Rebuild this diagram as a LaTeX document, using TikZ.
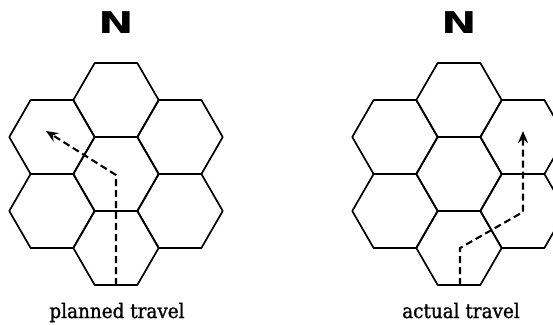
\documentclass[tikz,border=0pt]{standalone}
\usepackage{fontspec}
\usetikzlibrary{arrows.meta}
\newfontfamily\labelfont[FakeBold=1.2]{DejaVu Serif}
\newfontfamily\northfont{DejaVu Sans}
\begin{document}
\begin{tikzpicture}[x=1pt,y=-1pt,
  hexline/.style={line width=1.7pt, line join=round},
  travel/.style={line width=2.1pt, dash pattern=on 7pt off 4pt, -{Stealth[length=12pt,width=10pt]}},
  northlabel/.style={font=\northfont\bfseries\fontsize{30}{31}\selectfont, xscale=1.4, inner sep=0pt},
  caption/.style={font=\labelfont\fontsize{20}{22}\selectfont, xscale=0.92, inner sep=0pt, anchor=base}]
\useasboundingbox (0,0) rectangle (553,324);
\clip (0,0) rectangle (553,324);
\def\HR{42.7}
\def\HH{36.98}
\def\HS{64.05}
% hex clusters
\foreach \ox in {116,459}{
  \foreach \dx/\dy in {0/0, 0/-2, 0/2, -1/-1, -1/1, 1/-1, 1/1}{
    \draw[hexline] ({\ox+\dx*\HS},{174+\dy*\HH})
      +(\HR,0) -- +(\HR/2,\HH) -- +(-\HR/2,\HH) -- +(-\HR,0)
      -- +(-\HR/2,-\HH) -- +(\HR/2,-\HH) -- cycle;
  }
}
% labels
\node[northlabel] (nl) at (116,22.5) {N};
\node[northlabel] (nr) at (459,22.5) {N};
\node[caption] (cl) at (117,318) {planned travel};
\node[caption] (cr) at (461,318) {actual travel};
% planned path
\coordinate (ps) at (116,285);
\coordinate (pb) at (116,175);
\coordinate (pe) at (46,131);
\draw[travel] (ps) -- (pb) -- (pe);
% actual path
\coordinate (as) at (460,285);
\coordinate (ab) at (460,248);
\coordinate (ac) at (523,212);
\coordinate (ae) at (523,131);
\draw[travel] (as) -- (ab) -- (ac) -- (ae);
\end{tikzpicture}
\end{document}
